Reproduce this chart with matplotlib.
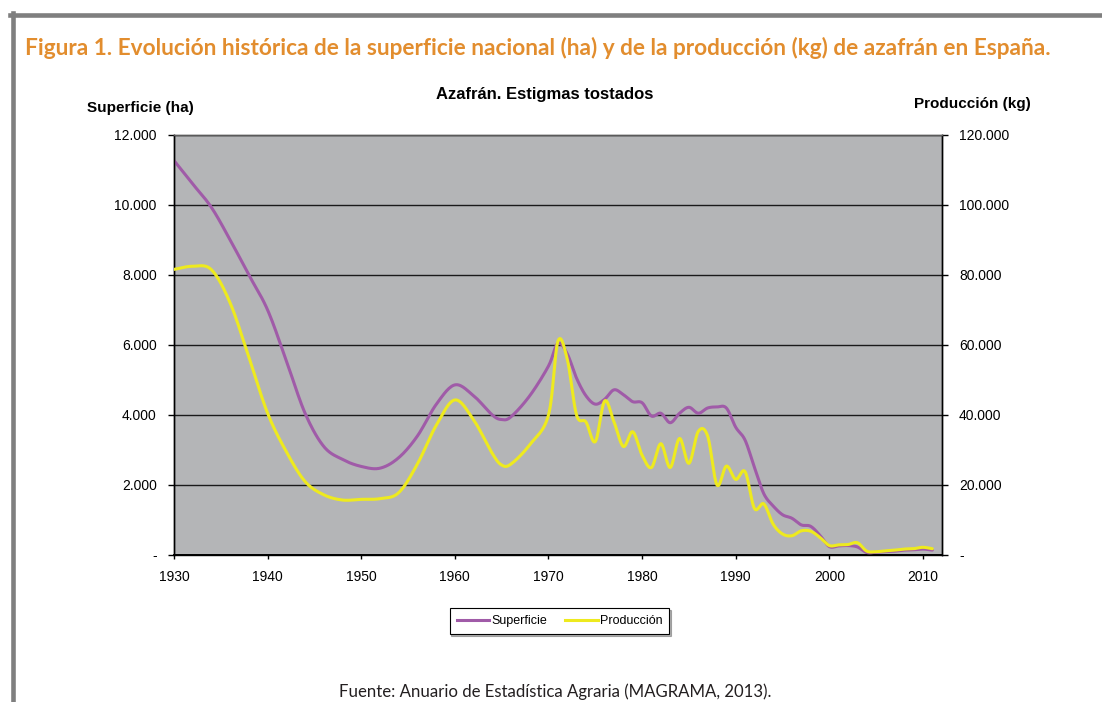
import matplotlib
matplotlib.use("Agg")
import matplotlib.pyplot as plt
import numpy as np
from matplotlib.ticker import FixedLocator, FuncFormatter
from matplotlib.lines import Line2D

plt.rcParams['font.family'] = ['Liberation Sans', 'DejaVu Sans']

# ---------------- data ----------------
years = [1930, 1932, 1934, 1936, 1938, 1940, 1942, 1944, 1946, 1948,
         1950, 1952, 1954, 1956, 1958, 1960, 1962, 1964, 1965, 1966,
         1968, 1970, 1971, 1972, 1973, 1974, 1975, 1976, 1977, 1978,
         1979, 1980, 1981, 1982, 1983, 1984, 1985, 1986, 1987, 1988,
         1989, 1990, 1991, 1992, 1993, 1994, 1995, 1996, 1997, 1998,
         1999, 2000, 2001, 2002, 2003, 2004, 2005, 2006, 2007, 2008,
         2009, 2010, 2011]

superficie_ha = [11270, 10600, 9930, 9000, 8000, 7000, 5550, 4050, 3100, 2730,
                 2530, 2480, 2780, 3400, 4300, 4860, 4550, 4000, 3870, 3950,
                 4550, 5400, 6050, 5750, 5050, 4550, 4310, 4450, 4720, 4580,
                 4380, 4350, 3970, 4050, 3780, 4050, 4220, 4050, 4200, 4230,
                 4200, 3650, 3280, 2500, 1750, 1400, 1150, 1050, 860, 820,
                 560, 240, 260, 270, 230, 70, 80, 100, 110, 140,
                 150, 170, 140]

produccion_kg = [81600, 82500, 81500, 72000, 56500, 40500, 29500, 21000, 17200, 15700,
                 15900, 16100, 17800, 26000, 37000, 44300, 38600, 29000, 25700, 26000,
                 31500, 40000, 61000, 56000, 40000, 38000, 32400, 44000, 38000, 31000,
                 35200, 28500, 25000, 31800, 25000, 33300, 26200, 35300, 34000, 20000,
                 25400, 21600, 23800, 13300, 14600, 8800, 6000, 5500, 6900, 6800,
                 5000, 2700, 2900, 3000, 3500, 1100, 950, 1200, 1400, 1700,
                 1800, 2200, 1800]

x_ticks = [1930, 1940, 1950, 1960, 1970, 1980, 1990, 2000, 2010]
left_ticks = [0, 2000, 4000, 6000, 8000, 10000, 12000]
right_ticks = [0, 20000, 40000, 60000, 80000, 100000, 120000]

series_names = ["Superficie", "Producción"]

# ---------------- helpers ----------------
def thousands(v, pos=None):
    if v == 0:
        return "-"
    return f"{int(round(v)):,}".replace(",", ".")


def smooth(x, y, n=16):
    """Excel-like smoothed line (Catmull-Rom through the data points)."""
    x = np.asarray(x, float)
    y = np.asarray(y, float)
    px = np.concatenate([[2 * x[0] - x[1]], x, [2 * x[-1] - x[-2]]])
    py = np.concatenate([[2 * y[0] - y[1]], y, [2 * y[-1] - y[-2]]])
    xs, ys = [], []
    t = np.linspace(0, 1, n, endpoint=False)
    for i in range(1, len(px) - 2):
        for P, out in ((px, xs), (py, ys)):
            p0, p1, p2, p3 = P[i - 1], P[i], P[i + 1], P[i + 2]
            out.extend(0.5 * ((2 * p1) + (-p0 + p2) * t +
                              (2 * p0 - 5 * p1 + 4 * p2 - p3) * t ** 2 +
                              (-p0 + 3 * p1 - 3 * p2 + p3) * t ** 3))
    xs.append(x[-1])
    ys.append(y[-1])
    return np.array(xs), np.array(ys)


def fit_text(fig, txt, target_px):
    r = fig.canvas.get_renderer()
    w = txt.get_window_extent(renderer=r).width
    txt.set_fontsize(txt.get_fontsize() * target_px / w)


# ---------------- figure ----------------
W, H = 1102, 702
fig = plt.figure(figsize=(W / 100, H / 100), dpi=100)
fig.patch.set_facecolor('white')

purple = '#A05BA8'
yellow = '#EEEA1E'

ax = fig.add_axes([174 / W, 1 - 555 / H, (941.7 - 174) / W, 420 / H])
ax.set_facecolor('#B4B5B7')
ax.set_xlim(1930, 2012)
ax.set_ylim(0, 12000)
ax.yaxis.set_major_locator(FixedLocator(left_ticks))
ax.yaxis.set_major_formatter(FuncFormatter(thousands))
ax.xaxis.set_major_locator(FixedLocator(x_ticks))
ax.grid(axis='y', color='#1a1a1a', lw=1.0)
ax.grid(axis='x', visible=False)
ax.set_axisbelow(True)

sx, sy = smooth(years, superficie_ha)
ax.plot(sx, sy, color=purple, lw=2.2, solid_capstyle='round', zorder=3)

ax2 = ax.twinx()
ax2.set_ylim(0, 120000)
ax2.yaxis.set_major_locator(FixedLocator(right_ticks))
ax2.yaxis.set_major_formatter(FuncFormatter(thousands))
px_, py_ = smooth(years, produccion_kg)
ax2.plot(px_, py_, color=yellow, lw=2.2, solid_capstyle='round', zorder=3)

for a in (ax, ax2):
    for s in a.spines.values():
        s.set_color('black')
        s.set_linewidth(1.0)
    a.spines['top'].set_color('#5a5a5a')
ax.spines['bottom'].set_linewidth(1.4)

ax.tick_params(axis='y', direction='out', length=4.5, width=1, color='black',
               labelsize=10, pad=8)
ax.tick_params(axis='x', direction='out', length=3, width=1, color='black',
               labelsize=10, pad=8)
ax2.tick_params(axis='y', direction='out', length=4.5, width=1, color='black',
                labelsize=10, pad=8)

# axis titles and chart title
fig.text(140 / W, 1 - 108 / H, "Superficie (ha)", ha='center', va='center',
         fontsize=11, fontweight='bold')
fig.text(972 / W, 1 - 104 / H, "Producción (kg)", ha='center', va='center',
         fontsize=11, fontweight='bold')
fig.text(545 / W, 1 - 94 / H, "Azafrán. Estigmas tostados", ha='center',
         va='center', fontsize=12, fontweight='bold')

# figure heading and source
t1 = fig.text(25 / W, 1 - 48 / H,
              "Figura 1. Evolución histórica de la superficie nacional (ha) y de la "
              "producción (kg) de azafrán en España.",
              ha='left', va='center', fontsize=14, fontweight='bold',
              color='#E28D2E', family=['Lato', 'DejaVu Sans'])
fit_text(fig, t1, 1031)

t2 = fig.text(555 / W, 1 - 692 / H,
              "Fuente: Anuario de Estadística Agraria (MAGRAMA, 2013).",
              ha='center', va='center', fontsize=11, color='#231f20',
              family=['Lato', 'DejaVu Sans'])
fit_text(fig, t2, 434)

# legend
handles = [Line2D([], [], color=purple, lw=2.2),
           Line2D([], [], color=yellow, lw=2.2)]
leg = fig.legend(handles, series_names, loc='center',
                 bbox_to_anchor=(559.5 / W, 1 - 621 / H), ncol=2,
                 frameon=True, fancybox=False, edgecolor='black', fontsize=9,
                 handlelength=2.6, handletextpad=0.15, columnspacing=1.5,
                 borderpad=0.55, borderaxespad=0,
                 shadow={'color': '#666666', 'ox': 1.2, 'oy': -1.2})
leg.get_frame().set_linewidth(0.8)

# page frame (grey border at top and left)
fig.add_artist(Line2D([10 / W, 1.0], [1 - 15 / H, 1 - 15 / H],
                      transform=fig.transFigure, color='#7f7f7f', lw=3.3))
fig.add_artist(Line2D([12.5 / W, 12.5 / W], [0, 1 - 13 / H],
                      transform=fig.transFigure, color='#7f7f7f', lw=3.3))

fig.savefig("out.png", dpi=100)
